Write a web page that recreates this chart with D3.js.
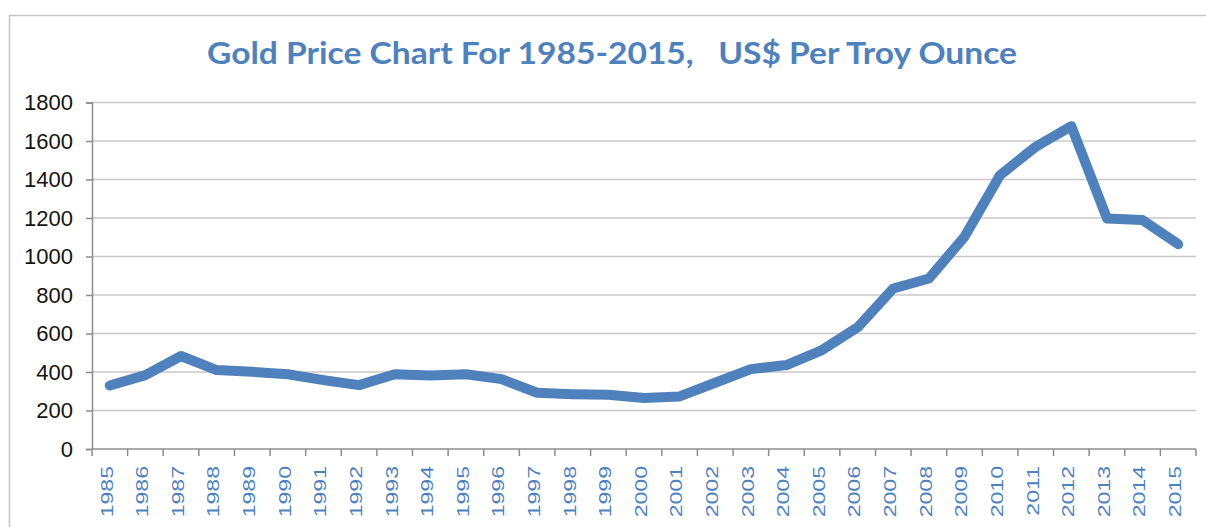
<!DOCTYPE html>
<html>
<head>
<meta charset="utf-8">
<script src="https://cdn.jsdelivr.net/npm/d3@7"></script>
<style>
  html, body { margin: 0; padding: 0; background: #fff; }
  svg { display: block; }
</style>
</head>
<body>
<svg id="chart" width="1206" height="527"></svg>
<script>
const years = ["1985","1986","1987","1988","1989","1990","1991","1992","1993","1994","1995","1996","1997","1998","1999","2000","2001","2002","2003","2004","2005","2006","2007","2008","2009","2010","2011","2012","2013","2014","2015"];
const prices = [330, 384, 483, 410, 401, 388, 358, 332, 388, 382, 388, 363, 292, 285, 282, 265, 273, 344, 415, 436, 514, 632, 834, 886, 1102, 1423, 1570, 1677, 1198, 1189, 1064];
const yTicks = [0, 200, 400, 600, 800, 1000, 1200, 1400, 1600, 1800];
const titleText = "Gold Price Chart For 1985-2015,\u00A0\u00A0\u00A0US$ Per Troy Ounce";

const svg = d3.select("#chart");
const W = 1206, H = 527;
const plot = { left: 92, right: 1196, top: 102.5, bottom: 449 };

// outer chart border
svg.append("rect")
  .attr("x", 9.5).attr("y", 15.5)
  .attr("width", W + 20).attr("height", H + 20)
  .attr("fill", "#fff").attr("stroke", "#c4c4c4").attr("stroke-width", 1.5);

const x = d3.scaleBand().domain(years).range([plot.left, plot.right]).padding(0);
const y = d3.scaleLinear().domain([0, 1800]).range([plot.bottom, plot.top]);

// gridlines
svg.append("g").selectAll("line")
  .data(yTicks.filter(d => d > 0))
  .join("line")
  .attr("x1", plot.left).attr("x2", plot.right)
  .attr("y1", d => y(d)).attr("y2", d => y(d))
  .attr("stroke", "#c8c8c8").attr("stroke-width", 1.3);

// y axis
const yAxis = svg.append("g")
  .attr("transform", `translate(${plot.left},0)`)
  .call(d3.axisLeft(y).tickValues(yTicks).tickSize(6).tickPadding(13).tickFormat(d3.format("d")));
yAxis.select(".domain").attr("stroke", "#8c8c8c").attr("stroke-width", 1.5);
yAxis.selectAll(".tick line").attr("stroke", "#8c8c8c").attr("stroke-width", 1.5);
yAxis.selectAll(".tick text")
  .attr("font-family", "'Liberation Sans', Arial, sans-serif")
  .attr("font-size", 22)
  .attr("fill", "#141414");

// x axis: ticks at band boundaries
const xg = svg.append("g");
xg.append("line")
  .attr("x1", plot.left).attr("x2", plot.right)
  .attr("y1", plot.bottom).attr("y2", plot.bottom)
  .attr("stroke", "#8c8c8c").attr("stroke-width", 1.5);
const boundaries = years.map(d => x(d)).concat([x(years[years.length - 1]) + x.bandwidth()]);
xg.selectAll("line.tk").data(boundaries).join("line")
  .attr("class", "tk")
  .attr("x1", d => d).attr("x2", d => d)
  .attr("y1", plot.bottom).attr("y2", plot.bottom + 7)
  .attr("stroke", "#8c8c8c").attr("stroke-width", 1.5);
xg.selectAll("text").data(years).join("text")
  .attr("transform", d => `translate(${x(d) + x.bandwidth() / 2 + 2.8},${plot.bottom + 17}) rotate(-90) scale(1.4,1)`)
  .attr("text-anchor", "end")
  .attr("font-family", "'Liberation Sans', Arial, sans-serif")
  .attr("font-size", 16.5)
  .attr("fill", "#4f81bd")
  .text(d => d);

// line
const line = d3.line()
  .x((d, i) => x(years[i]) + x.bandwidth() / 2)
  .y(d => y(d));
svg.append("path")
  .datum(prices)
  .attr("d", line)
  .attr("fill", "none")
  .attr("stroke", "#4f81bd")
  .attr("stroke-width", 10)
  .attr("stroke-linejoin", "round")
  .attr("stroke-linecap", "round");

// title
const t = svg.append("text")
  .attr("x", 207).attr("y", 64)
  .attr("font-family", "Lato, 'Open Sans', sans-serif")
  .attr("font-weight", "bold")
  .attr("font-size", 31)
  .attr("fill", "#4f81bd")
  .text(titleText);
t.attr("textLength", 810).attr("lengthAdjust", "spacingAndGlyphs");
</script>
</body>
</html>
